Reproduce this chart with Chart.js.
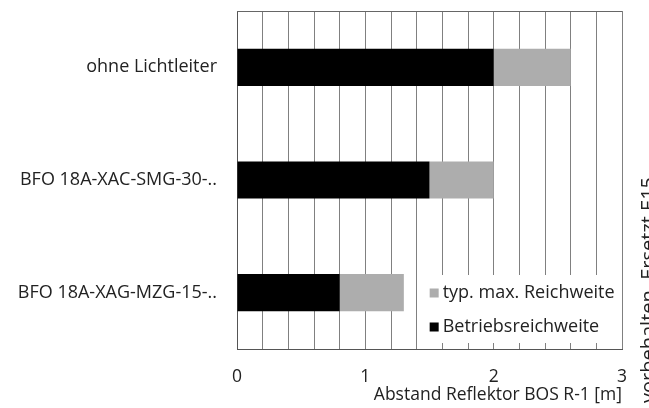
<!DOCTYPE html>
<html>
<head>
<meta charset="utf-8">
<script src="https://cdn.jsdelivr.net/npm/chart.js@4.4.1/dist/chart.umd.min.js"></script>
<style>
  html, body { margin: 0; padding: 0; background: #fff; }
  #wrap { width: 649px; height: 408px; }
</style>
</head>
<body>
<div id="wrap"><canvas id="myChart" width="649" height="408"></canvas></div>
<script>
/** DATA **/
const categories = ['ohne Lichtleiter', 'BFO 18A-XAC-SMG-30-..', 'BFO 18A-XAG-MZG-15-..'];
const betriebsreichweite = [2.0, 1.5, 0.8];
const typMaxReichweite = [2.6, 2.0, 1.3];
const xTickLabels = [0, 1, 2, 3];

const seriesNames = ['Betriebsreichweite', 'typ. max. Reichweite'];
const seriesColors = ['#000000', '#adadad'];

Chart.defaults.font.family = "'Open Sans', sans-serif";
Chart.defaults.color = '#222';

// legend drawn inside the plot, bottom right, over the grid
const innerLegend = {
  id: 'innerLegend',
  afterDatasetsDraw(chart) {
    const ctx = chart.ctx;
    const area = chart.chartArea;
    const x = chart.scales.x;
    const left = x.getPixelForValue(1.4);
    ctx.save();
    ctx.fillStyle = '#fff';
    ctx.fillRect(left + 1, area.bottom - 74, area.right - left - 1.5, 68);
    ctx.font = "18px 'Open Sans', sans-serif";
    ctx.textBaseline = 'middle';
    const items = [1, 0];
    items.forEach((i, n) => {
      const cy = area.bottom - 56 + n * 34;
      ctx.fillStyle = seriesColors[i];
      ctx.fillRect(left + 13, cy - 4.5, 9, 9);
      ctx.fillStyle = '#222';
      ctx.fillText(seriesNames[i], left + 26, cy);
    });
    ctx.restore();
  },
  afterDraw(chart) {
    const ctx = chart.ctx;
    const area = chart.chartArea;
    ctx.save();
    // top frame line
    ctx.strokeStyle = '#666';
    ctx.lineWidth = 1;
    ctx.beginPath();
    ctx.moveTo(area.left, Math.round(area.top) + 0.5);
    ctx.lineTo(area.right, Math.round(area.top) + 0.5);
    ctx.stroke();
    // cut off side note at the right edge
    ctx.translate(655, 177);
    ctx.rotate(-Math.PI / 2);
    ctx.font = "20px 'Open Sans', sans-serif";
    ctx.fillStyle = '#222';
    ctx.textAlign = 'right';
    ctx.textBaseline = 'alphabetic';
    ctx.fillText('Änderungen vorbehalten, Ersetzt E15', 0, 0);
    ctx.restore();
  }
};

const data = {
  labels: categories,
  datasets: [
    {
      label: seriesNames[0],
      data: betriebsreichweite,
      backgroundColor: seriesColors[0],
      barPercentage: 0.33,
      categoryPercentage: 1
    },
    {
      label: seriesNames[1],
      data: typMaxReichweite.map((v, i) => +(v - betriebsreichweite[i]).toFixed(2)),
      backgroundColor: seriesColors[1],
      barPercentage: 0.33,
      categoryPercentage: 1
    }
  ]
};

const config = {
  type: 'bar',
  data,
  options: {
    indexAxis: 'y',
    responsive: false,
    animation: false,
    layout: { padding: { left: 0, right: 27, top: 11, bottom: 0 } },
    plugins: {
      legend: { display: false },
      tooltip: { enabled: false }
    },
    scales: {
      x: {
        stacked: true,
        min: 0,
        max: 3,
        afterFit(scale) { scale.height = 59; },
        grid: { color: '#808080', lineWidth: 1, drawTicks: false },
        border: { color: '#555' },
        ticks: {
          stepSize: 0.2,
          autoSkip: false,
          maxRotation: 0,
          padding: 18,
          font: { size: 17.5 },
          color: '#222',
          callback: (v) => {
            const r = Math.round(v);
            return Math.abs(v - r) < 1e-6 && xTickLabels.includes(r) ? String(r) : '';
          }
        },
        title: {
          display: true,
          text: 'Abstand Reflektor BOS R-1 [m]',
          align: 'end',
          color: '#222',
          font: { size: 17.5 },
          padding: { top: 0, bottom: 2 }
        }
      },
      y: {
        stacked: true,
        afterFit(scale) {
          scale.width = 237;
          scale.paddingTop = 0;
          scale.paddingBottom = 0;
        },
        grid: { display: false, drawTicks: false },
        border: { color: '#555' },
        ticks: { padding: 20, font: { size: 18 }, color: '#222' }
      }
    }
  },
  plugins: [innerLegend]
};

var myChart = new Chart(document.getElementById('myChart'), config);
</script>
</body>
</html>
